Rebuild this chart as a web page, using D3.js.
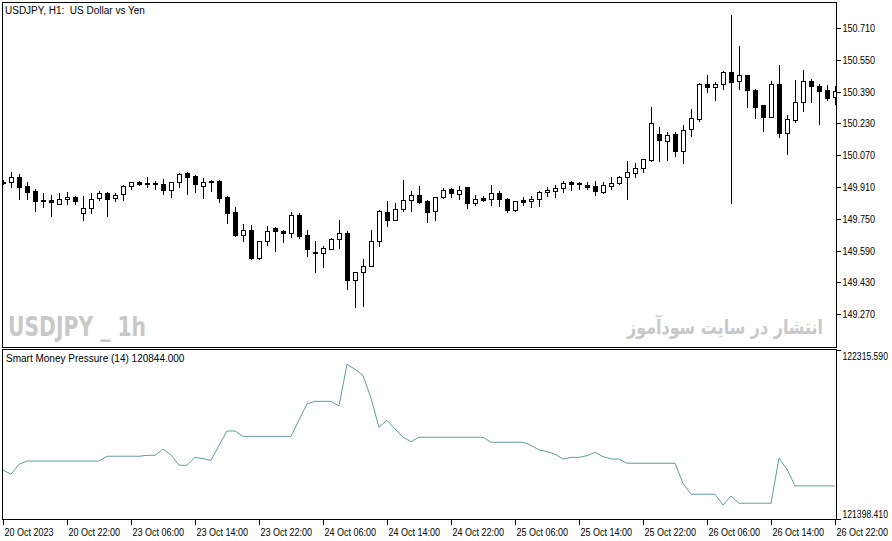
<!DOCTYPE html>
<html>
<meta charset="utf-8">
<style>
body { margin: 0; background: #fff; }
svg { display: block; }
text { font-family: 'Liberation Sans', Arial, sans-serif; font-size: 10px; fill: #000; white-space: pre; }
.frame { fill: none; stroke: #000; stroke-width: 1; shape-rendering: crispEdges; }
.axis path { display: none; }
.axis line { stroke: #000; shape-rendering: crispEdges; }
.axis text { font-size: 10px; }
.wick { stroke: #000; stroke-width: 1; shape-rendering: crispEdges; }
.body { stroke: #000; stroke-width: 1; shape-rendering: crispEdges; }
.smp { fill: none; stroke: #5f9ea0; stroke-width: 1; }
.mark { fill: #c8c8c8; font-weight: bold; }
</style>
<body>
<svg width="892" height="541"></svg>
<script src="https://cdn.jsdelivr.net/npm/d3@7"></script>
<script>

// USDJPY H1, 20 Oct 14:00 .. 26 Oct 22:00
var opens = [149.936,149.937,149.959,149.916,149.892,149.842,149.845,149.826,149.849,149.860,
  149.778,149.803,149.854,149.879,149.854,149.874,149.914,149.934,149.931,149.931,
  149.924,149.895,149.934,149.981,149.964,149.917,149.942,149.941,149.859,149.785,
  149.668,149.693,149.552,149.637,149.703,149.689,149.678,149.768,149.668,149.584,
  149.577,149.600,149.647,149.681,149.444,149.481,149.512,149.637,149.785,149.746,
  149.798,149.844,149.870,149.840,149.788,149.859,149.899,149.877,149.909,149.832,
  149.854,149.849,149.880,149.849,149.795,149.845,149.839,149.849,149.884,149.892,
  149.907,149.934,149.929,149.922,149.914,149.887,149.917,149.929,149.959,149.979,
  150.005,150.046,150.176,150.140,150.176,150.090,150.201,150.254,150.429,150.412,
  150.428,150.487,150.442,150.472,150.398,150.321,150.264,150.429,150.184,150.249,
  150.337,150.444,150.418,150.398,150.363];
var highs = [149.946,149.984,149.976,149.934,149.899,149.882,149.870,149.882,149.885,149.865,
  149.865,149.879,149.890,149.883,149.882,149.918,149.936,149.941,149.959,149.939,
  149.951,149.936,149.979,149.986,149.971,149.954,149.946,149.946,149.865,149.808,
  149.724,149.717,149.639,149.714,149.708,149.694,149.785,149.778,149.693,149.639,
  149.614,149.656,149.744,149.689,149.483,149.548,149.694,149.795,149.840,149.828,
  149.946,149.890,149.916,149.843,149.860,149.904,149.904,149.916,149.910,149.869,
  149.867,149.919,149.889,149.854,149.842,149.862,149.865,149.892,149.912,149.922,
  149.941,149.941,149.936,149.936,149.939,149.936,149.959,149.967,150.040,150.030,
  150.051,150.311,150.212,150.187,150.187,150.221,150.303,150.434,150.474,150.436,
  150.492,150.776,150.620,150.474,150.403,150.323,150.445,150.524,150.271,150.449,
  150.499,150.454,150.429,150.423,150.418];
var lows = [149.926,149.912,149.849,149.849,149.791,149.808,149.766,149.823,149.825,149.823,
  149.744,149.778,149.845,149.766,149.842,149.845,149.899,149.922,149.909,149.899,
  149.875,149.859,149.912,149.875,149.887,149.857,149.892,149.837,149.728,149.666,
  149.637,149.550,149.547,149.620,149.587,149.632,149.661,149.656,149.565,149.484,
  149.510,149.597,149.603,149.396,149.308,149.312,149.511,149.614,149.716,149.744,
  149.788,149.790,149.832,149.736,149.746,149.856,149.859,149.852,149.803,149.820,
  149.840,149.820,149.815,149.785,149.791,149.820,149.812,149.817,149.867,149.859,
  149.887,149.897,149.899,149.899,149.872,149.882,149.899,149.926,149.852,149.962,
  149.987,150.043,150.043,150.048,150.066,150.033,150.169,150.244,150.390,150.348,
  150.402,149.832,150.405,150.314,150.259,150.194,150.263,150.164,150.078,150.239,
  150.294,150.340,150.229,150.350,150.328];
var closes = [149.933,149.959,149.912,149.887,149.842,149.844,149.834,149.849,149.860,149.842,
  149.803,149.850,149.880,149.852,149.870,149.916,149.934,149.927,149.924,149.924,
  149.895,149.934,149.977,149.962,149.924,149.936,149.936,149.857,149.780,149.667,
  149.693,149.553,149.637,149.688,149.688,149.678,149.768,149.666,149.600,149.577,
  149.602,149.647,149.678,149.444,149.481,149.512,149.637,149.790,149.744,149.798,
  149.844,149.869,149.836,149.785,149.859,149.894,149.882,149.894,149.832,149.849,
  149.847,149.880,149.852,149.795,149.839,149.837,149.850,149.885,149.897,149.905,
  149.931,149.924,149.924,149.912,149.892,149.919,149.931,149.959,149.984,150.005,
  150.050,150.231,150.148,150.171,150.090,150.196,150.256,150.429,150.412,150.429,
  150.487,150.437,150.472,150.397,150.314,150.264,150.429,150.184,150.253,150.337,
  150.444,150.417,150.395,150.360,150.393];

// Smart Money Pressure (14)
var smp = [121664,121641,121695,121713,121713,121713,121713,121713,121713,121713,
  121713,121713,121713,121739,121739,121739,121739,121739,121744,121744,
  121778,121746,121690,121690,121733,121726,121717,121798,121876,121876,
  121847,121847,121847,121847,121847,121847,121847,121936,122023,122037,
  122037,122037,122012,122238,122211,122178,122054,121896,121934,121887,
  121842,121818,121842,121842,121842,121842,121842,121842,121842,121842,
  121842,121815,121815,121815,121815,121815,121798,121773,121764,121750,
  121724,121733,121733,121742,121760,121737,121724,121724,121701,121701,
  121701,121701,121701,121701,121701,121592,121533,121533,121533,121533,
  121474,121523,121484,121484,121484,121484,121484,121728,121668,121578,
  121578,121578,121578,121578,121578];

var timeTickIndex = [0,8,16,24,32,40,48,56,64,72,80,88,96,104];
var timeTickLabels = ["20 Oct 2023","20 Oct 22:00","23 Oct 06:00","23 Oct 14:00","23 Oct 22:00",
  "24 Oct 06:00","24 Oct 14:00","24 Oct 22:00","25 Oct 06:00","25 Oct 14:00",
  "25 Oct 22:00","26 Oct 06:00","26 Oct 14:00","26 Oct 22:00"];
var priceTicks = [150.710,150.550,150.390,150.230,150.070,149.910,149.750,149.590,149.430,149.270];
var smpTicks = [122315.590,121398.410];

var svg = d3.select("svg");
var left = 2, right = 836;
var main = {top: 2, bottom: 347}, sub = {top: 349, bottom: 519};

var x = d3.scaleLinear().domain([0, 104]).range([3, 835]);
var y = d3.scaleLinear().domain([149.270, 150.710]).range([314.3, 28]);
var ys = d3.scaleLinear().domain([121398.410, 122315.590]).range([sub.bottom, sub.top + 1]);

var px = function(v) { return Math.round(v) + 0.5; };

// squeeze axis text a little, the terminal font is narrower
function narrow(sel, k) {
  sel.each(function() {
    var w = this.getComputedTextLength();
    d3.select(this).attr("textLength", w * k).attr("lengthAdjust", "spacingAndGlyphs");
  });
}

// panes
svg.append("rect").attr("class", "frame")
  .attr("x", left + 0.5).attr("y", main.top + 0.5)
  .attr("width", right - left).attr("height", main.bottom - main.top);
svg.append("rect").attr("class", "frame")
  .attr("x", left + 0.5).attr("y", sub.top + 0.5)
  .attr("width", right - left).attr("height", sub.bottom - sub.top);

// watermarks
svg.append("text").attr("class", "mark")
  .attr("x", 8).attr("y", 336)
  .attr("textLength", 138).attr("lengthAdjust", "spacingAndGlyphs")
  .style("font-family", "'Liberation Sans Narrow', 'DejaVu Sans Condensed', Arial, sans-serif")
  .style("font-size", "27px")
  .text("USDJPY _ 1h");
svg.append("text").attr("class", "mark")
  .attr("x", 823).attr("y", 334).attr("text-anchor", "end")
  .attr("textLength", 196).attr("lengthAdjust", "spacingAndGlyphs")
  .style("font-family", "'DejaVu Sans', sans-serif")
  .style("font-size", "20px")
  .text("انتشار در سایت سودآموز");

// candles
var idx = d3.range(opens.length);
svg.append("clipPath").attr("id", "mainclip").append("rect")
  .attr("x", left + 1).attr("y", main.top + 1)
  .attr("width", right - left - 1).attr("height", main.bottom - main.top - 1);

var candles = svg.append("g").attr("clip-path", "url(#mainclip)")
  .selectAll("g").data(idx).enter().append("g");

candles.append("line").attr("class", "wick")
  .attr("x1", function(i) { return Math.round(x(i)) + 0.5; })
  .attr("x2", function(i) { return Math.round(x(i)) + 0.5; })
  .attr("y1", function(i) { return Math.round(y(highs[i])); })
  .attr("y2", function(i) { return Math.round(y(lows[i])) + 1; });

candles.append("rect").attr("class", "body")
  .attr("x", function(i) { return Math.round(x(i)) - 1.5; })
  .attr("width", 4)
  .attr("y", function(i) { return px(y(Math.max(opens[i], closes[i]))); })
  .attr("height", function(i) {
    return Math.max(1, Math.round(y(Math.min(opens[i], closes[i]))) - Math.round(y(Math.max(opens[i], closes[i]))));
  })
  .attr("fill", function(i) { return closes[i] >= opens[i] ? "#fff" : "#000"; });

// indicator line
svg.append("path").attr("class", "smp")
  .datum(idx)
  .attr("d", d3.line().x(function(i) { return x(i); }).y(function(i) { return ys(smp[i]); }));

// labels
svg.append("text").attr("x", 5).attr("y", 14).text("USDJPY, H1:  US Dollar vs Yen");
svg.append("text").attr("x", 6).attr("y", 362).text("Smart Money Pressure (14) 120844.000");

// right price axis
var pAxis = svg.append("g").attr("class", "axis")
  .attr("transform", "translate(" + (right + 0.5) + ",0)")
  .call(d3.axisRight(y).tickValues(priceTicks).tickSize(4).tickPadding(2)
    .tickFormat(d3.format(".3f")));
pAxis.selectAll(".tick").attr("transform", function(d) { return "translate(0," + px(y(d)) + ")"; });
narrow(pAxis.selectAll(".tick text"), 0.9);

// indicator axis
var sAxis = svg.append("g").attr("class", "axis")
  .attr("transform", "translate(" + (right + 0.5) + ",0)")
  .call(d3.axisRight(ys).tickValues(smpTicks).tickSize(4).tickPadding(2)
    .tickFormat(d3.format(".3f")));
sAxis.selectAll(".tick").attr("transform", function(d) { return "translate(0," + px(ys(d)) + ")"; });
sAxis.selectAll(".tick text").attr("dy", function(d, i) { return i === 0 ? "0.9em" : "-0.15em"; });
narrow(sAxis.selectAll(".tick text"), 0.86);

// time axis
var tAxis = svg.append("g").attr("class", "axis")
  .attr("transform", "translate(0," + (sub.bottom + 0.5) + ")")
  .call(d3.axisBottom(x).tickValues(timeTickIndex).tickSize(5).tickPadding(4)
    .tickFormat(function(d, i) { return timeTickLabels[i]; }));
tAxis.selectAll(".tick").attr("transform", function(d) { return "translate(" + (Math.round(x(d)) + 0.5) + ",0)"; });
tAxis.selectAll(".tick text").attr("text-anchor", "start").attr("x", 1);
narrow(tAxis.selectAll(".tick text"), 0.9);

</script>
</body>
</html>
